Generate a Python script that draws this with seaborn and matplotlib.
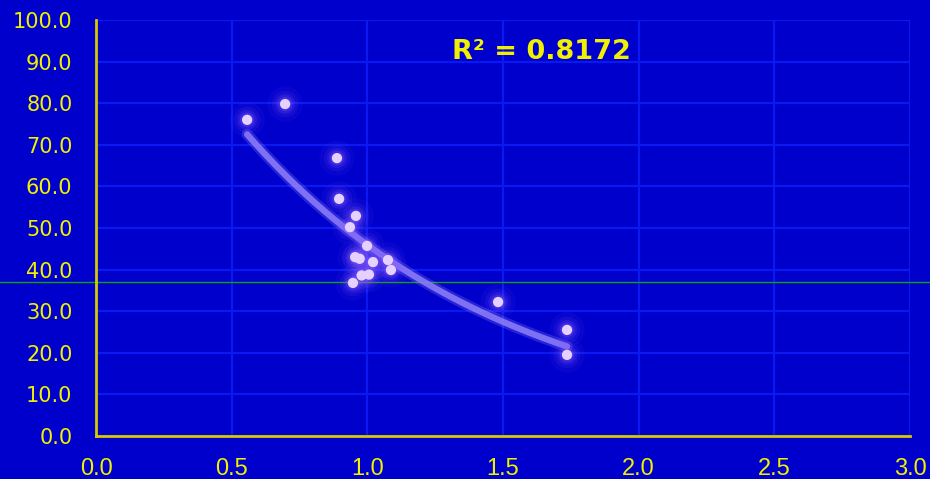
import numpy as np
import pandas as pd
import matplotlib
matplotlib.use("Agg")
import matplotlib.pyplot as plt
import seaborn as sns

# ---- data ----
x_vals = [0.557, 0.697, 0.888, 0.896, 0.958, 0.936, 0.999, 0.955, 0.972, 1.021,
          1.076, 1.087, 0.979, 1.006, 0.947, 1.482, 1.736, 1.736]
y_vals = [76.0, 79.8, 66.8, 57.0, 52.9, 50.2, 45.7, 43.0, 42.6, 41.8,
          42.3, 39.9, 38.6, 38.8, 36.8, 32.2, 25.5, 19.5]
x_ticks = [0.0, 0.5, 1.0, 1.5, 2.0, 2.5, 3.0]
y_ticks = [0, 10, 20, 30, 40, 50, 60, 70, 80, 90, 100]
r2_label = "R² = 0.8172"
reference_level = 37.0

df = pd.DataFrame({"x": x_vals, "y": y_vals})

# exponential trend line fitted from the data
b, ln_a = np.polyfit(df["x"], np.log(df["y"]), 1)
fx = np.linspace(df["x"].min(), df["x"].max(), 200)
fit = pd.DataFrame({"x": fx, "y": np.exp(ln_a) * np.exp(b * fx)})

BG = "#0000cc"
GRID = "#0a18f2"
YELLOW = "#f0f000"
SPINE = "#d8c800"

sns.set_theme(style="white")
plt.rcParams["font.family"] = ["DejaVu Sans"]

fig = plt.figure(figsize=(9.3, 4.79), dpi=100, facecolor=BG)
ax = fig.add_axes([96 / 930, 43 / 479, 814 / 930, 416 / 479])
ax.set_facecolor(BG)

ax.set_xlim(0, 3.0)
ax.set_ylim(0, 100)
ax.set_xticks(x_ticks)
ax.set_yticks(y_ticks)
ax.set_xticklabels([f"{t:.1f}" for t in x_ticks], family=["Liberation Sans", "DejaVu Sans"],
                   fontsize=17, color=YELLOW)
ax.set_yticklabels([f"{t:.1f}" for t in y_ticks], fontsize=15, color=YELLOW)
ax.tick_params(axis="x", length=0, pad=16)
ax.tick_params(axis="y", length=0, pad=17)
ax.grid(True, color=GRID, lw=1.6)
ax.set_axisbelow(True)
for s in ["top", "right"]:
    ax.spines[s].set_visible(False)
for s in ["left", "bottom"]:
    ax.spines[s].set_color(SPINE)
    ax.spines[s].set_linewidth(2)

# reference line across the figure
ax.axhline(reference_level, xmin=-0.12, xmax=1.03, color="#10a010", lw=1, clip_on=False, zorder=1)

# trend line with soft glow
sns.lineplot(data=fit, x="x", y="y", ax=ax, color="#9a88ff", lw=8, alpha=0.25, zorder=3)
sns.lineplot(data=fit, x="x", y="y", ax=ax, color="#8f80f8", lw=4.5, alpha=0.85, zorder=3)

# glowing points
for s, a in [(650, 0.06), (360, 0.10), (200, 0.16), (110, 0.25)]:
    sns.scatterplot(data=df, x="x", y="y", ax=ax, s=s, color="#8a60ff", alpha=a,
                    edgecolor="none", linewidth=0, zorder=4, legend=False)
sns.scatterplot(data=df, x="x", y="y", ax=ax, s=55, color="#e6d0ff", edgecolor="none",
                linewidth=0, zorder=5, legend=False)

ax.set_xlabel("")
ax.set_ylabel("")

ax.text(0.5475, 0.922, r2_label, transform=ax.transAxes, ha="center", va="center",
        fontsize=19.5, fontweight="bold", color=YELLOW)

fig.savefig("out.png", dpi=100, facecolor=BG)
